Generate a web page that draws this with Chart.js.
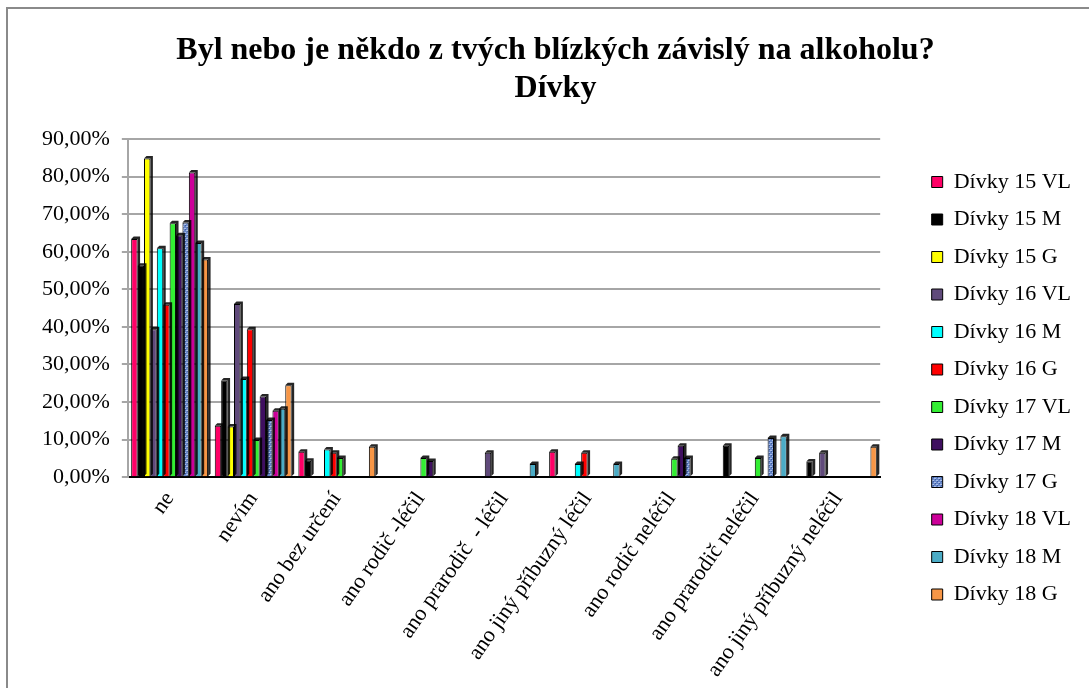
<!DOCTYPE html>
<html>
<head>
<meta charset="utf-8">
<script src="https://cdn.jsdelivr.net/npm/chart.js@4.4.1/dist/chart.umd.min.js"></script>
<style>
  html, body { margin: 0; padding: 0; background: #fff; }
  #wrap { position: relative; width: 1089px; height: 688px; overflow: hidden; }
  #frame { position: absolute; left: 6px; top: 7px; width: 1200px; height: 800px; border: 2px solid #8a8a8a; box-sizing: border-box; }
  #c { position: absolute; left: 0; top: 0; }
</style>
</head>
<body>
<div id="wrap">
  <div id="frame"></div>
  <canvas id="c" width="1089" height="688"></canvas>
</div>
<script>
// kategorie odpovědí
const categories = [
  "ne", "nevím", "ano bez určení", "ano rodič -léčil", "ano prarodič  - léčil",
  "ano jiný příbuzný léčil", "ano rodič neléčil", "ano prarodič neléčil", "ano jiný příbuzný neléčil"
];

const seriesNames = [
  "Dívky 15 VL", "Dívky 15 M", "Dívky 15 G", "Dívky 16 VL", "Dívky 16 M", "Dívky 16 G",
  "Dívky 17 VL", "Dívky 17 M", "Dívky 17 G", "Dívky 18 VL", "Dívky 18 M", "Dívky 18 G"
];

// hodnoty v procentech, pořadí podle categories
const divky15VL = [63.4, 13.7, 6.8, 0, 0, 6.8, 0, 0, 0];
const divky15M  = [56.3, 25.7, 4.4, 0, 0, 0, 0, 8.4, 4.2];
const divky15G  = [84.8, 13.5, 0, 0, 0, 0, 0, 0, 0];
const divky16VL = [39.4, 46.1, 0, 0, 6.5, 0, 0, 0, 6.5];
const divky16M  = [60.9, 26.1, 7.4, 0, 0, 3.5, 0, 0, 0];
const divky16G  = [45.9, 39.4, 6.5, 0, 0, 6.5, 0, 0, 0];
const divky17VL = [67.6, 9.9, 5.1, 5.1, 0, 0, 4.9, 5.1, 0];
const divky17M  = [64.4, 21.5, 0, 4.3, 0, 0, 8.4, 0, 0];
const divky17G  = [67.8, 15.2, 0, 0, 0, 0, 5.1, 10.4, 0];
const divky18VL = [81.1, 17.7, 0, 0, 0, 0, 0, 0, 0];
const divky18M  = [62.3, 18.2, 0, 0, 3.5, 3.5, 0, 10.9, 0];
const divky18G  = [57.9, 24.5, 8.1, 0, 0, 0, 0, 0, 8.1];

const yTicks = [0, 10, 20, 30, 40, 50, 60, 70, 80, 90];

const seriesValues = [divky15VL, divky15M, divky15G, divky16VL, divky16M, divky16G,
  divky17VL, divky17M, divky17G, divky18VL, divky18M, divky18G];

const SERIF = "'Liberation Serif', 'Times New Roman', serif";

function dotPattern() {
  const p = document.createElement("canvas");
  p.width = 4; p.height = 4;
  const g = p.getContext("2d");
  g.fillStyle = "#6686c8";
  g.fillRect(0, 0, 4, 4);
  g.fillStyle = "#a9bde8";
  g.fillRect(0, 0, 2, 1);
  g.fillRect(2, 2, 2, 1);
  g.fillStyle = "#3d5a9a";
  g.fillRect(1, 1, 1, 1);
  g.fillRect(3, 3, 1, 1);
  return g.createPattern(p, "repeat");
}

const colors = ["#ff0066", "#000000", "#ffff00", "#604a7b", "#00ffff", "#ff0000",
  "#33ee33", "#3f0f60", dotPattern(), "#cc0099", "#4bacc6", "#f79646"];

// tmavá hrana nahoře a vpravo – napodobení 3D sloupců
const bar3d = {
  id: "bar3d",
  afterDatasetsDraw(chart) {
    const ctx = chart.ctx;
    const d = 2.5;
    chart.data.datasets.forEach((ds, i) => {
      chart.getDatasetMeta(i).data.forEach(bar => {
        const h = bar.base - bar.y;
        if (h <= 0.5) return;
        const l = bar.x - bar.width / 2, r = bar.x + bar.width / 2;
        ctx.save();
        ctx.fillStyle = "rgba(0,0,0,0.85)";
        ctx.beginPath();
        ctx.moveTo(l, bar.y);
        ctx.lineTo(l + d, bar.y - d);
        ctx.lineTo(r + d, bar.y - d);
        ctx.lineTo(r + d, bar.base - d);
        ctx.lineTo(r, bar.base);
        ctx.lineTo(r, bar.y);
        ctx.closePath();
        ctx.fill();
        ctx.restore();
      });
    });
  }
};

const datasets = seriesNames.map((name, i) => ({
  label: name,
  data: seriesValues[i],
  backgroundColor: colors[i],
  borderColor: "#000",
  borderWidth: 1,
  categoryPercentage: 0.92,
  barPercentage: 1.0
}));

new Chart(document.getElementById("c"), {
  type: "bar",
  data: { labels: categories, datasets: datasets },
  plugins: [bar3d],
  options: {
    responsive: false,
    animation: false,
    layout: { padding: { left: 30, right: 8, top: 8, bottom: 4 } },
    plugins: {
      title: {
        display: true,
        text: ["Byl nebo je někdo z tvých blízkých závislý na alkoholu?", "Dívky"],
        color: "#000",
        font: { family: SERIF, size: 32, weight: "bold", lineHeight: 1.1875 },
        padding: { top: 24, bottom: 31 }
      },
      legend: {
        position: "right",
        align: "start",
        // prázdný titulek jen posouvá položky legendy dolů
        title: { display: true, text: " ", font: { size: 10 }, padding: { top: 135.5, bottom: 0 } },
        labels: {
          color: "#000",
          font: { family: SERIF, size: 22 },
          boxWidth: 11,
          boxHeight: 11,
          padding: 15.5
        }
      },
      tooltip: { enabled: false }
    },
    scales: {
      x: {
        grid: { display: false },
        border: { color: "#000", width: 2 },
        ticks: {
          color: "#000",
          maxRotation: 55,
          minRotation: 55,
          padding: 2,
          font: { family: SERIF, size: 22 }
        }
      },
      y: {
        min: 0,
        max: 90,
        afterBuildTicks: axis => { axis.ticks = yTicks.map(v => ({ value: v })); },
        grid: { color: "#a6a6a6", lineWidth: 2, tickLength: 6 },
        border: { color: "#a6a6a6", width: 2 },
        ticks: {
          color: "#000",
          padding: 12,
          font: { family: SERIF, size: 22 },
          callback: v => v.toFixed(2).replace(".", ",") + "%"
        }
      },
      // prázdný prostor mezi grafem a legendou
      gap: {
        type: "linear",
        position: "right",
        grid: { display: false, drawTicks: false },
        border: { display: false },
        ticks: { display: false },
        afterFit: s => { s.width = 36; }
      }
    }
  }
});
</script>
</body>
</html>
